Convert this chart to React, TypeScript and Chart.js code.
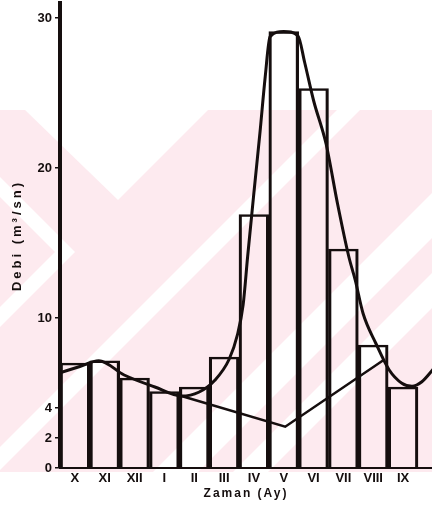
import React, { useEffect, useRef } from 'react';
import { Chart, registerables } from 'chart.js';

Chart.register(...registerables);

// Months of the water year (bar categories)
const months = ['X', 'XI', 'XII', 'I', 'II', 'III', 'IV', 'V', 'VI', 'VII', 'VIII', 'IX'];
// Monthly mean discharge (m³/sn) – histogram bars
const monthlyFlow = [7.0, 7.15, 6.0, 5.1, 5.4, 7.4, 16.9, 29.1, 25.3, 14.6, 8.2, 5.4];
// Y-axis tick labels
const yTickValues = [0, 2, 4, 10, 20, 30];

// Smoothed hydrograph (x in month units from start of X)
const hydroX = [0, 0.64, 1.3, 2.15, 3.18, 4.07, 4.65, 5.19, 5.67, 5.95, 6.14, 6.29, 6.5, 6.7, 6.88, 7.04, 7.5, 7.98, 8.2, 8.5, 8.92, 9.3, 9.68, 9.9, 10.16, 10.59, 11.03, 11.46, 11.8, 12.13, 12.54];
const hydroY = [6.35, 6.75, 7.15, 6.2, 5.4, 4.8, 5.05, 5.85, 7.25, 8.9, 10.9, 14.1, 18.35, 22.3, 26.1, 28.75, 29.1, 28.8, 27.05, 24.5, 21.6, 17.65, 14.1, 12.5, 10.3, 8.3, 6.55, 5.65, 5.45, 5.75, 6.65];

// Base-flow separation line
const baseX = [4.07, 7.55, 10.85];
const baseY = [4.8, 2.75, 7.2];

const INK = '#150e0e';
const TICK_FONT = "'Liberation Sans', Arial, sans-serif";
const TITLE_FONT = "'Liberation Sans', Arial, sans-serif";

const watermarkPlugin = {
  id: 'watermark',
  afterLayout(chart: any) {
    Object.values(chart.scales).forEach((s: any) => {
      if (s._lsPatched) return;
      const orig = s.drawTitle.bind(s);
      const sp = s.axis === 'y' ? '3px' : '2px';
      s.drawTitle = function () {
        const c = chart.ctx;
        c.letterSpacing = sp;
        orig();
        c.letterSpacing = '0px';
      };
      s._lsPatched = true;
    });
  },
  beforeDraw(chart: any) {
    const ctx = chart.ctx;
    const w = chart.width;
    ctx.save();
    ctx.beginPath();
    ctx.rect(0, 110, w, 362);
    ctx.clip();
    ctx.fillStyle = '#fdeaef';
    ctx.fillRect(0, 110, w, 362);
    ctx.fillStyle = '#ffffff';
    const shapes = [
      [[25, 110], [208, 110], [118, 200]],
      [[0, 177], [75, 252], [0, 327], [0, 307], [55, 252], [0, 197]],
      [[337, 110], [360, 110], [-2, 472], [-25, 472]],
      [[515, 110], [560, 110], [198, 472], [153, 472]],
      [[595, 110], [630, 110], [268, 472], [233, 472]],
    ];
    shapes.forEach((p) => {
      ctx.beginPath();
      ctx.moveTo(p[0][0], p[0][1]);
      for (let i = 1; i < p.length; i++) ctx.lineTo(p[i][0], p[i][1]);
      ctx.closePath();
      ctx.fill();
    });
    ctx.restore();
  },
};

export default function App() {
  const ref = useRef<HTMLCanvasElement | null>(null);

  useEffect(() => {
    if (!ref.current) return;
    const tickFont = { family: TICK_FONT, size: 13, weight: 'bold' as const };
    const chart = new Chart(ref.current, {
      type: 'bar',
      data: {
        datasets: [
          {
            type: 'line',
            data: baseX.map((x, i) => ({ x, y: baseY[i] })),
            borderColor: INK,
            borderWidth: 2.5,
            pointRadius: 0,
            tension: 0,
            fill: false,
            order: 0,
          } as any,
          {
            type: 'line',
            data: hydroX.map((x, i) => ({ x, y: hydroY[i] })),
            borderColor: INK,
            borderWidth: 3,
            pointRadius: 0,
            cubicInterpolationMode: 'monotone',
            fill: false,
            order: 1,
          } as any,
          {
            type: 'bar',
            data: months.map((_, i) => ({ x: i + 0.5, y: monthlyFlow[i] })),
            backgroundColor: 'rgba(0,0,0,0)',
            borderColor: INK,
            borderWidth: { top: 2, left: 2.5, right: 2.5, bottom: 0 },
            borderSkipped: 'start',
            barPercentage: 1,
            categoryPercentage: 1,
            grouped: false,
            order: 2,
          } as any,
        ],
      },
      options: {
        animation: false,
        responsive: false,
        devicePixelRatio: 1,
        layout: { padding: { top: 3, left: 0, right: 0, bottom: 0 } },
        plugins: { legend: { display: false }, tooltip: { enabled: false } },
        scales: {
          x: {
            type: 'linear',
            min: 0,
            max: 12.47,
            offset: false,
            afterBuildTicks: (s: any) => {
              s.ticks = months.map((_, i) => ({ value: i + 0.5 }));
            },
            afterFit: (s: any) => {
              s.height = 46;
              s.paddingLeft = 0;
              s.paddingRight = 0;
            },
            ticks: {
              autoSkip: false,
              maxRotation: 0,
              padding: 3,
              color: INK,
              font: tickFont,
              callback: (v: any) => months[Math.floor(Number(v))] ?? '',
            },
            grid: { display: false, drawTicks: false },
            border: { display: true, color: INK, width: 2 },
            title: {
              display: true,
              text: 'Zaman (Ay)',
              color: INK,
              font: { family: TITLE_FONT, size: 12, weight: 'bold' },
              padding: { top: 0, bottom: 13 },
            },
          },
          y: {
            type: 'linear',
            min: 0,
            max: 31,
            afterBuildTicks: (s: any) => {
              s.ticks = yTickValues.map((v) => ({ value: v }));
            },
            afterFit: (s: any) => {
              s.width = 60;
              s.paddingTop = 0;
              s.paddingBottom = 0;
            },
            ticks: { padding: 3, color: INK, font: tickFont },
            grid: {
              display: true,
              drawOnChartArea: false,
              drawTicks: true,
              tickLength: 5,
              color: INK,
              lineWidth: 1.5,
            },
            border: { display: true, color: INK, width: 4 },
            title: {
              display: true,
              text: 'Debi (m³/sn)',
              color: INK,
              font: { family: TITLE_FONT, size: 13, weight: 'bold' },
              padding: { top: 10, bottom: 0 },
            },
          },
        },
      } as any,
      plugins: [watermarkPlugin],
    });
    return () => chart.destroy();
  }, []);

  return (
    <div style={{ position: 'fixed', left: 0, top: 0, width: 432, height: 514 }}>
      <canvas ref={ref} width={432} height={514} style={{ display: 'block' }} />
    </div>
  );
}
